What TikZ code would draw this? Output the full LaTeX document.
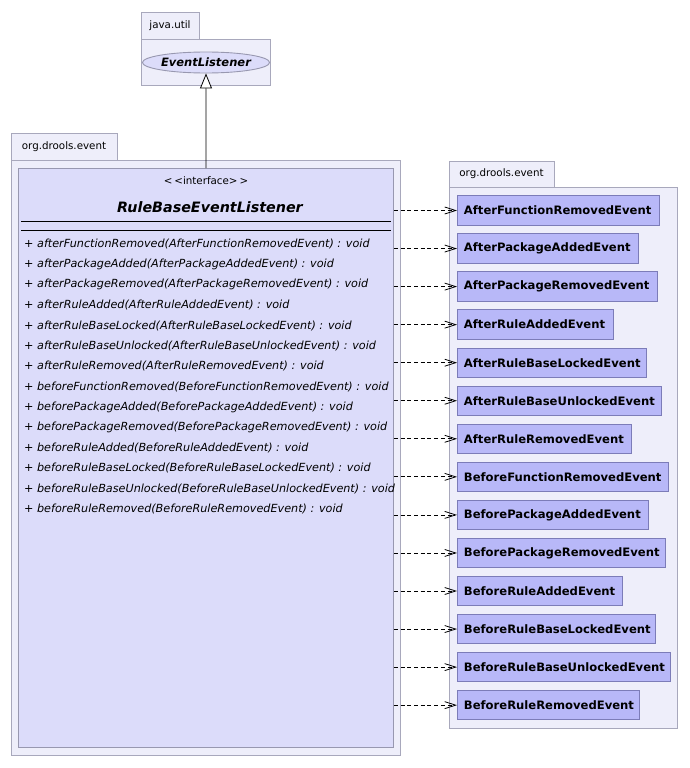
\documentclass[tikz,border=0pt]{standalone}
\usepackage{fontspec}
\setmainfont{DejaVu Sans}
\usetikzlibrary{arrows.meta,shapes.geometric}
\definecolor{pkgfill}{HTML}{EEEEFA}
\definecolor{pkgdraw}{HTML}{A8A8BC}
\definecolor{clsfill}{HTML}{DCDCFA}
\definecolor{clsdraw}{HTML}{9898B0}
\definecolor{evfill}{HTML}{B8B8F8}
\definecolor{evdraw}{HTML}{7C7CB8}
\tikzset{
  pkgshape/.style={draw=pkgdraw,fill=pkgfill,line width=0.9pt},
  pkglabel/.style={font=\fontsize{10.3}{12}\selectfont,inner sep=0pt},
  clsshape/.style={draw=clsdraw,fill=clsfill,line width=0.9pt,rectangle,inner sep=0pt,anchor=north west},
  method/.style={font=\fontsize{11.2}{13}\selectfont\itshape,anchor=west,inner sep=0pt},
  evbox/.style={draw=evdraw,fill=evfill,line width=0.9pt,rectangle,anchor=west,
    minimum height=29.5pt,inner xsep=6.5pt,inner ysep=0pt,align=left,
    font=\fontsize{11.6}{14}\selectfont\bfseries},
  dep/.style={draw=black,line width=0.8pt,dash pattern=on 4pt off 2.7pt,
    -{Straight Barb[length=11pt,width=7pt,line width=0.8pt]}},
}
\newcommand{\evnode}[4]{\node[evbox,text width=#3pt-13pt] (#1) at (457,#2) {#4};}
\begin{document}
\begin{tikzpicture}[x=1pt,y=-1pt]
\useasboundingbox (0,0) rectangle (689,768);
% java.util package
\draw[pkgshape] (141,12) rectangle (199,39);
\draw[pkgshape] (141,39) rectangle (270,85);
\node[pkglabel] (pju) at (170,26) {java.util};
\node[ellipse,draw=clsdraw,fill=clsfill,line width=0.9pt,minimum width=114pt,minimum height=21pt,inner sep=0pt,
  font=\fontsize{11.5}{13}\selectfont\bfseries\itshape] (el) at (206,62.5) {EventListener};
% org.drools.event (left)
\draw[pkgshape] (11,133) rectangle (117,160);
\draw[pkgshape] (11,160) rectangle (400,755);
\node[pkglabel] (pl) at (64,146.5) {org.drools.event};
% class box
\node[clsshape,minimum width=375pt,minimum height=579pt] (cls) at (18,168) {};
\node[font=\fontsize{10.3}{12}\selectfont,inner sep=0pt] (st) at (206,181) {{<}\kern2pt{<}interface{>}\kern2pt{>}};
\node[font=\fontsize{14.3}{17}\selectfont\bfseries\itshape,inner sep=0pt] (cn) at (210,207) {RuleBaseEventListener};
\draw[line width=0.9pt] (21,221) coordinate (l1a) -- (391,221) coordinate (l1b);
\draw[line width=0.9pt] (21,230) coordinate (l2a) -- (391,230) coordinate (l2b);
\node[method] (m1) at (24,244) {+ afterFunctionRemoved(AfterFunctionRemovedEvent) : void};
\node[method] (m2) at (24,264.4) {+ afterPackageAdded(AfterPackageAddedEvent) : void};
\node[method] (m3) at (24,284.8) {+ afterPackageRemoved(AfterPackageRemovedEvent) : void};
\node[method] (m4) at (24,305.2) {+ afterRuleAdded(AfterRuleAddedEvent) : void};
\node[method] (m5) at (24,325.6) {+ afterRuleBaseLocked(AfterRuleBaseLockedEvent) : void};
\node[method] (m6) at (24,346) {+ afterRuleBaseUnlocked(AfterRuleBaseUnlockedEvent) : void};
\node[method] (m7) at (24,366.4) {+ afterRuleRemoved(AfterRuleRemovedEvent) : void};
\node[method] (m8) at (24,386.8) {+ beforeFunctionRemoved(BeforeFunctionRemovedEvent) : void};
\node[method] (m9) at (24,407.2) {+ beforePackageAdded(BeforePackageAddedEvent) : void};
\node[method] (m10) at (24,427.6) {+ beforePackageRemoved(BeforePackageRemovedEvent) : void};
\node[method] (m11) at (24,448) {+ beforeRuleAdded(BeforeRuleAddedEvent) : void};
\node[method] (m12) at (24,468.4) {+ beforeRuleBaseLocked(BeforeRuleBaseLockedEvent) : void};
\node[method] (m13) at (24,488.8) {+ beforeRuleBaseUnlocked(BeforeRuleBaseUnlockedEvent) : void};
\node[method] (m14) at (24,509.2) {+ beforeRuleRemoved(BeforeRuleRemovedEvent) : void};
% inheritance
\draw[line width=0.8pt,-{Triangle[open,length=15pt,width=12pt,line width=0.8pt,fill=white]}] (cls.north) -- (el.south);
% org.drools.event (right)
\draw[pkgshape] (449,161) rectangle (554,187);
\draw[pkgshape] (449,187) rectangle (677,728);
\node[pkglabel] (pr) at (501.5,174) {org.drools.event};
\evnode{e1}{210.5}{202}{AfterFunctionRemovedEvent}
\evnode{e2}{248.55}{181}{AfterPackageAddedEvent}
\evnode{e3}{286.6}{200}{AfterPackageRemovedEvent}
\evnode{e4}{324.65}{156}{AfterRuleAddedEvent}
\evnode{e5}{362.7}{189}{AfterRuleBaseLockedEvent}
\evnode{e6}{400.75}{204}{AfterRuleBaseUnlockedEvent}
\evnode{e7}{438.8}{174}{AfterRuleRemovedEvent}
\evnode{e8}{476.85}{211}{BeforeFunctionRemovedEvent}
\evnode{e9}{514.9}{191}{BeforePackageAddedEvent}
\evnode{e10}{552.95}{208}{BeforePackageRemovedEvent}
\evnode{e11}{591}{165}{BeforeRuleAddedEvent}
\evnode{e12}{629.05}{198}{BeforeRuleBaseLockedEvent}
\evnode{e13}{667.1}{213}{BeforeRuleBaseUnlockedEvent}
\evnode{e14}{705.15}{182}{BeforeRuleRemovedEvent}
\foreach \i in {1,...,14}{\draw[dep] (cls.east |- e\i) -- (e\i.west);}
\end{tikzpicture}
\end{document}
